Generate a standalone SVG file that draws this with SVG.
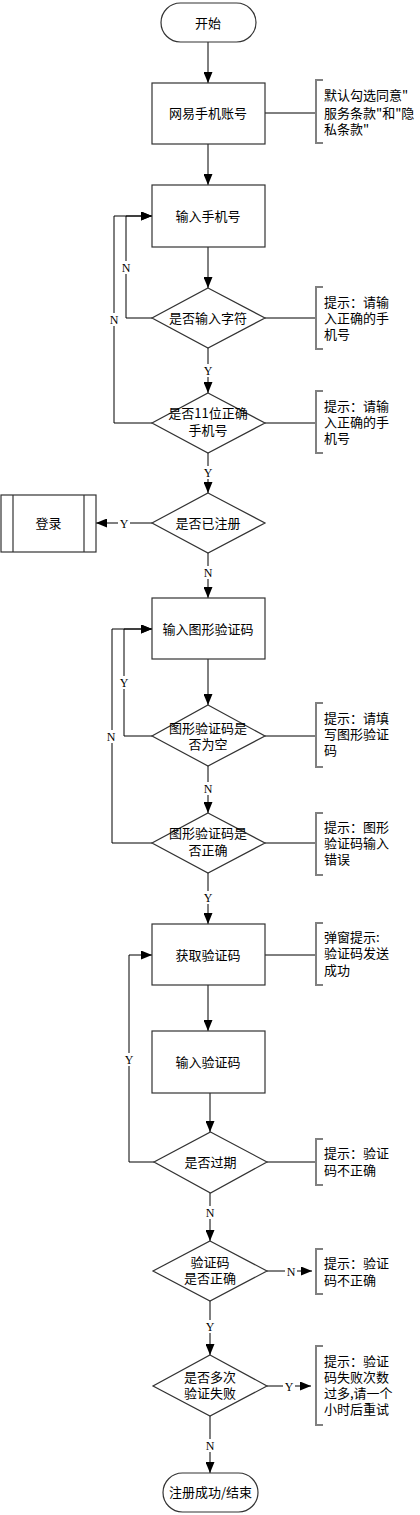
<svg xmlns="http://www.w3.org/2000/svg" width="420" height="1515" viewBox="0 0 420 1515">
<style>
.shape{fill:#fff;stroke:#333;stroke-width:1.2}
.line{fill:none;stroke:#000;stroke-width:1}
.arrow{fill:none;stroke:#000;stroke-width:1;marker-end:url(#arr)}
.bracket{fill:none;stroke:#808080;stroke-width:2}
.t{font-family:"Noto Sans CJK SC","Noto Sans",sans-serif;font-size:13px;fill:#000;text-anchor:middle}
.n{font-family:"Noto Sans CJK SC","Noto Sans",sans-serif;font-size:13px;fill:#000}
.lb{font-family:"Liberation Serif",serif;font-size:12px;fill:#000;text-anchor:middle}
.lbg{fill:#fff;stroke:none}
</style>
<defs>
<marker id="arr" viewBox="0 0 11 9" refX="11" refY="4.5" markerWidth="11" markerHeight="9" markerUnits="userSpaceOnUse" orient="auto">
<path d="M0,0 L11,4.5 L0,9 z" fill="#000"/>
</marker>
</defs>
<rect width="420" height="1515" fill="#fff"/>

<g id="connectors">
<line class="arrow" x1="208" y1="42" x2="208" y2="83"/>
<line class="arrow" x1="208" y1="144" x2="208" y2="185"/>
<line class="arrow" x1="208" y1="247" x2="208" y2="288"/>
<line class="arrow" x1="208" y1="348" x2="208" y2="393"/>
<line class="arrow" x1="208" y1="453" x2="208" y2="493"/>
<polyline class="arrow" points="152,318 126,318 126,216 152,216"/>
<polyline class="arrow" points="152,423 114,423 114,216 152,216"/>
<line class="arrow" x1="152" y1="523" x2="96" y2="523"/>
<line class="arrow" x1="208" y1="553" x2="208" y2="598"/>
<line class="arrow" x1="208" y1="659" x2="208" y2="705"/>
<polyline class="arrow" points="152,736 124,736 124,629 152,629"/>
<line class="arrow" x1="208" y1="766" x2="208" y2="813"/>
<polyline class="arrow" points="152,843 112,843 112,629 152,629"/>
<line class="arrow" x1="208" y1="873" x2="208" y2="924"/>
<line class="arrow" x1="208" y1="985" x2="208" y2="1031"/>
<line class="arrow" x1="210" y1="1093" x2="210" y2="1132"/>
<polyline class="arrow" points="154,1162 129,1162 129,955 152,955"/>
<line class="arrow" x1="210" y1="1193" x2="210" y2="1241"/>
<line class="arrow" x1="267" y1="1271" x2="312" y2="1271"/>
<line class="arrow" x1="210" y1="1301" x2="210" y2="1355"/>
<line class="arrow" x1="267" y1="1386" x2="311" y2="1386"/>
<line class="arrow" x1="210" y1="1416" x2="210" y2="1473"/>
<line class="line" x1="265" y1="113" x2="316" y2="113"/>
<line class="line" x1="265" y1="318" x2="316" y2="318"/>
<line class="line" x1="265" y1="423" x2="316" y2="423"/>
<line class="line" x1="265" y1="736" x2="316" y2="736"/>
<line class="line" x1="265" y1="843" x2="316" y2="843"/>
<line class="line" x1="265" y1="955" x2="316" y2="955"/>
<line class="line" x1="267" y1="1162" x2="316" y2="1162"/>
</g>

<g id="labels">
<rect class="lbg" x="121" y="261" width="10" height="13"/><text class="lb" x="126" y="272">N</text>
<rect class="lbg" x="109" y="313" width="10" height="13"/><text class="lb" x="114" y="324">N</text>
<rect class="lbg" x="203" y="364" width="10" height="13"/><text class="lb" x="208" y="375">Y</text>
<rect class="lbg" x="203" y="466" width="10" height="13"/><text class="lb" x="208" y="477">Y</text>
<rect class="lbg" x="118" y="517" width="12" height="13"/><text class="lb" x="124" y="528">Y</text>
<rect class="lbg" x="203" y="566" width="10" height="13"/><text class="lb" x="208" y="577">N</text>
<rect class="lbg" x="119" y="676" width="10" height="13"/><text class="lb" x="124" y="687">Y</text>
<rect class="lbg" x="106" y="730" width="10" height="13"/><text class="lb" x="111" y="741">N</text>
<rect class="lbg" x="203" y="782" width="10" height="13"/><text class="lb" x="208" y="793">N</text>
<rect class="lbg" x="203" y="891" width="10" height="13"/><text class="lb" x="208" y="902">Y</text>
<rect class="lbg" x="124" y="1053" width="10" height="13"/><text class="lb" x="129" y="1064">Y</text>
<rect class="lbg" x="205" y="1206" width="10" height="13"/><text class="lb" x="210" y="1217">N</text>
<rect class="lbg" x="285" y="1265" width="12" height="13"/><text class="lb" x="291" y="1276">N</text>
<rect class="lbg" x="205" y="1320" width="10" height="13"/><text class="lb" x="210" y="1331">Y</text>
<rect class="lbg" x="283" y="1380" width="12" height="13"/><text class="lb" x="289" y="1391">Y</text>
<rect class="lbg" x="205" y="1439" width="10" height="13"/><text class="lb" x="210" y="1450">N</text>
</g>

<g id="start"><rect class="shape" x="161" y="3" width="95" height="39" rx="19.5"/><text class="t" x="208" y="27.5">开始</text></g>
<g id="account"><rect class="shape" x="152" y="83" width="113" height="61"/><text class="t" x="208" y="118">网易手机账号</text></g>
<g id="inputPhone"><rect class="shape" x="152" y="185" width="113" height="62"/><text class="t" x="208" y="221">输入手机号</text></g>
<g id="hasChars"><polygon class="shape" points="208,288 265,318 208,348 152,318"/><text class="t" x="208" y="323">是否输入字符</text></g>
<g id="valid11"><polygon class="shape" points="208,393 265,423 208,453 152,423"/><text class="t" x="208" y="418">是否11位正确</text><text class="t" x="208" y="435">手机号</text></g>
<g id="registered"><polygon class="shape" points="208,493 265,523 208,553 152,523"/><text class="t" x="208" y="528">是否已注册</text></g>
<g id="login"><rect class="shape" x="1" y="495" width="95" height="57"/><line class="shape" x1="13" y1="495" x2="13" y2="552"/><line class="shape" x1="84" y1="495" x2="84" y2="552"/><text class="t" x="48.5" y="528">登录</text></g>
<g id="inputCaptcha"><rect class="shape" x="152" y="598" width="113" height="61"/><text class="t" x="208" y="634">输入图形验证码</text></g>
<g id="captchaEmpty"><polygon class="shape" points="208,705 265,736 208,766 152,736"/><text class="t" x="208" y="733">图形验证码是</text><text class="t" x="208" y="749">否为空</text></g>
<g id="captchaValid"><polygon class="shape" points="208,813 265,843 208,873 152,843"/><text class="t" x="208" y="838">图形验证码是</text><text class="t" x="208" y="855">否正确</text></g>
<g id="getCode"><rect class="shape" x="152" y="924" width="113" height="61"/><text class="t" x="208" y="960">获取验证码</text></g>
<g id="inputCode"><rect class="shape" x="152" y="1031" width="113" height="62"/><text class="t" x="208" y="1067">输入验证码</text></g>
<g id="expired"><polygon class="shape" points="210.5,1132 267,1162 210.5,1193 154,1162"/><text class="t" x="210.5" y="1167">是否过期</text></g>
<g id="codeValid"><polygon class="shape" points="210,1241 267,1271 210,1301 153,1271"/><text class="t" x="210" y="1267">验证码</text><text class="t" x="210" y="1283">是否正确</text></g>
<g id="manyFails"><polygon class="shape" points="210,1355 267,1386 210,1416 153,1386"/><text class="t" x="210" y="1382">是否多次</text><text class="t" x="210" y="1398">验证失败</text></g>
<g id="end"><rect class="shape" x="163" y="1473" width="95" height="39" rx="19.5"/><text class="t" x="210.5" y="1497">注册成功/结束</text></g>

<g id="note1"><path class="bracket" d="M323,80 H316 V143 H323"/><text class="n" x="324" y="100">默认勾选同意"</text><text class="n" x="324" y="118">服务条款"和"隐</text><text class="n" x="324" y="134">私条款"</text></g>
<g id="note2"><path class="bracket" d="M323,287 H316 V349 H323"/><text class="n" x="324" y="307">提示：请输</text><text class="n" x="324" y="323">入正确的手</text><text class="n" x="324" y="339">机号</text></g>
<g id="note3"><path class="bracket" d="M323,391 H316 V453 H323"/><text class="n" x="324" y="411">提示：请输</text><text class="n" x="324" y="427">入正确的手</text><text class="n" x="324" y="443">机号</text></g>
<g id="note4"><path class="bracket" d="M323,703 H316 V767 H323"/><text class="n" x="324" y="723">提示：请填</text><text class="n" x="324" y="739">写图形验证</text><text class="n" x="324" y="755">码</text></g>
<g id="note5"><path class="bracket" d="M323,813 H316 V875 H323"/><text class="n" x="324" y="832">提示：图形</text><text class="n" x="324" y="848">验证码输入</text><text class="n" x="324" y="864">错误</text></g>
<g id="note6"><path class="bracket" d="M323,923 H316 V985 H323"/><text class="n" x="324" y="942">弹窗提示:</text><text class="n" x="324" y="958">验证码发送</text><text class="n" x="324" y="975">成功</text></g>
<g id="note7"><path class="bracket" d="M323,1139 H316 V1185 H323"/><text class="n" x="324" y="1158">提示：验证</text><text class="n" x="324" y="1175">码不正确</text></g>
<g id="note8"><path class="bracket" d="M323,1249 H316 V1294 H323"/><text class="n" x="324" y="1268">提示：验证</text><text class="n" x="324" y="1285">码不正确</text></g>
<g id="note9"><path class="bracket" d="M323,1346 H316 V1425 H323"/><text class="n" x="324" y="1366">提示：验证</text><text class="n" x="324" y="1382">码失败次数</text><text class="n" x="324" y="1398">过多,请一个</text><text class="n" x="324" y="1414">小时后重试</text></g>
</svg>
